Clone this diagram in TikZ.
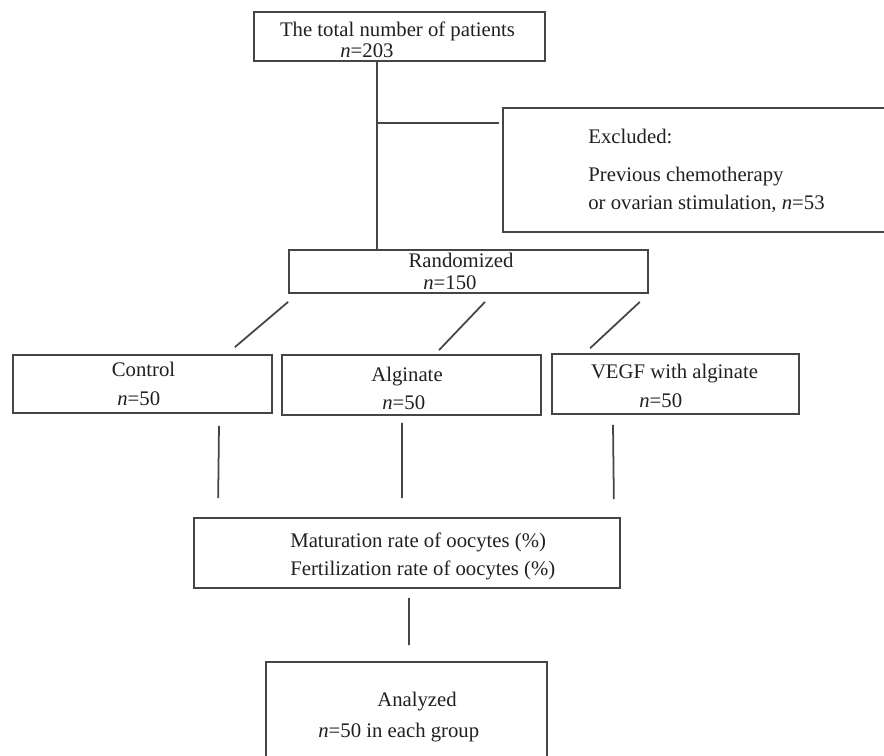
\documentclass[tikz,border=0pt]{standalone}
\usepackage{fontspec}
\setmainfont{Liberation Serif}
\definecolor{linegray}{HTML}{454545}
\definecolor{ink}{HTML}{231F20}

\begin{document}
\begin{tikzpicture}[x=0.02cm, y=-0.02cm,
    box/.style={draw=linegray, line width=1pt, inner sep=0pt},
    txt/.style={text=ink, inner sep=0pt, font=\fontsize{11.8}{14}\selectfont},
    link/.style={draw=linegray, line width=1pt}]

\clip (0,0) rectangle (884,755);
\fill[white] (0,0) rectangle (884,755);

% boxes
\node[box, minimum width=5.82cm, minimum height=0.98cm] (total) at (399.5,36.5) {};
\node[box, minimum width=8.04cm, minimum height=2.48cm] (excl) at (704,170) {};
\node[box, minimum width=7.18cm, minimum height=0.86cm] (rand) at (468.5,271.5) {};
\node[box, minimum width=5.18cm, minimum height=1.16cm] (ctrl) at (142.5,384) {};
\node[box, minimum width=5.18cm, minimum height=1.2cm] (algi) at (411.5,385) {};
\node[box, minimum width=4.94cm, minimum height=1.2cm] (vegf) at (675.5,384) {};
\node[box, minimum width=8.52cm, minimum height=1.4cm] (rate) at (407,553) {};
\node[box, minimum width=5.62cm, minimum height=2.56cm] (anal) at (406.5,726) {};

% texts
\node[txt, anchor=base] (totalA) at (397.5,36) {The total number of patients};
\node[txt, anchor=base west] (totalB) at (340,57) {\textit{n}=203};

\node[txt, anchor=base west] (exclA) at (588,143) {Excluded:};
\node[txt, anchor=base west] (exclB) at (588,181) {Previous chemotherapy};
\node[txt, anchor=base west] (exclC) at (588,209) {or ovarian stimulation, \textit{n}=53};

\node[txt, anchor=base] (randA) at (461,267) {Randomized};
\node[txt, anchor=base west] (randB) at (423,289) {\textit{n}=150};

\node[txt, anchor=base] (ctrlA) at (143.5,376) {Control};
\node[txt, anchor=base west] (ctrlB) at (117,405) {\textit{n}=50};
\node[txt, anchor=base] (algiA) at (407,381) {Alginate};
\node[txt, anchor=base west] (algiB) at (382,409) {\textit{n}=50};
\node[txt, anchor=base] (vegfA) at (674.5,378) {VEGF with alginate};
\node[txt, anchor=base west] (vegfB) at (639,407) {\textit{n}=50};

\node[txt, anchor=base west] (rateA) at (290,547) {Maturation rate of oocytes (\%)};
\node[txt, anchor=base west] (rateB) at (290,575) {Fertilization rate of oocytes (\%)};

\node[txt, anchor=base] (analA) at (417,706) {Analyzed};
\node[txt, anchor=base west] (analB) at (318,737) {\textit{n}=50 in each group};

% connectors
\coordinate (trunk) at (377,0);
\coordinate (split) at (377,123);
\draw[link] (trunk |- total.south) -- (trunk |- rand.north);
\draw[link, shorten >=2pt] (split) -- (split -| excl.west);

\draw[link] ([shift={(0cm,-0.16cm)}]rand.south west) -- ([shift={(-0.76cm,0.14cm)}]ctrl.north east);
\draw[link] ([shift={(0.33cm,-0.16cm)}]rand.south) -- ([shift={(0.55cm,0.08cm)}]algi.north);
\draw[link] ([shift={(-0.18cm,-0.16cm)}]rand.south east) -- ([shift={(0.78cm,0.1cm)}]vegf.north west);

\draw[link] ([shift={(1.53cm,-0.24cm)}]ctrl.south) -- ([shift={(0.5cm,0.38cm)}]rate.north west);
\draw[link] ([shift={(-0.19cm,-0.14cm)}]algi.south) -- ([shift={(-0.1cm,0.38cm)}]rate.north);
\draw[link] ([shift={(-1.25cm,-0.2cm)}]vegf.south) -- ([shift={(-0.14cm,0.36cm)}]rate.north east);

\draw[link] ([shift={(0.04cm,-0.18cm)}]rate.south) -- ([shift={(0.05cm,0.32cm)}]anal.north);

\end{tikzpicture}
\end{document}
